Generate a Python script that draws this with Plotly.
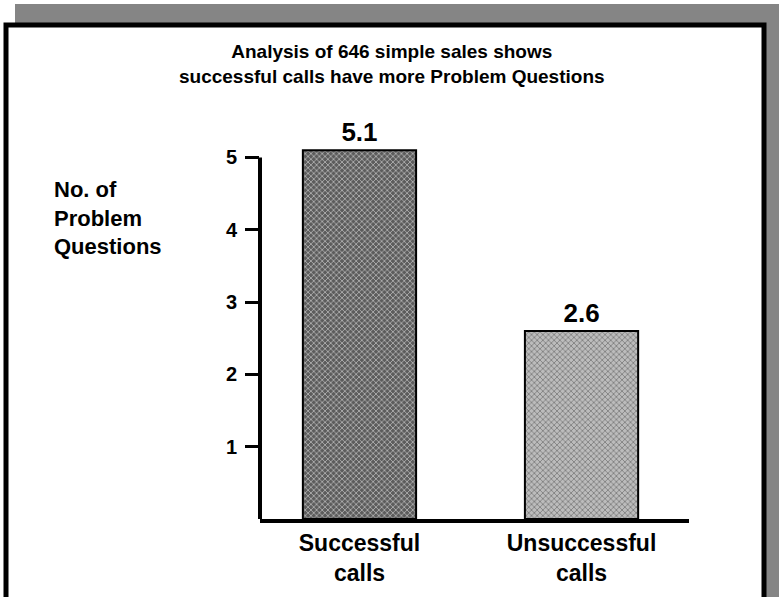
"""Problem Questions per call: successful vs unsuccessful (simple sales)."""
import plotly.graph_objects as go

W, H = 779, 597
# plot area in pixels
L, R, T, B = 260, 90, 114, 78

categories = ["Successful<br>calls", "Unsuccessful<br>calls"]
values = [5.1, 2.6]
value_labels = ["5.1", "2.6"]
tick_vals = [1, 2, 3, 4, 5]

FONT = "Liberation Sans, Arial, sans-serif"


def px(x, y):
    """Convert pixel coordinates to paper coordinates."""
    return (x - L) / (W - L - R), (H - B - y) / (H - T - B)


fig = go.Figure()
fig.add_trace(go.Bar(
    x=[0, 1],
    y=values,
    width=0.51,
    text=value_labels,
    textposition="outside",
    cliponaxis=False,
    textfont=dict(family=FONT, size=26, color="black", weight="bold"),
    marker=dict(
        color=["#5c5c5c", "#bcbcbc"],
        line=dict(color="black", width=2),
        pattern=dict(
            shape="x",
            fgcolor=["#000000", "#707070"],
            bgcolor=["#6a6a6a", "#cccccc"],
            size=4,
            solidity=0.4,
        ),
    ),
    hoverinfo="skip",
))

shapes = []
# hatched drop shadow (top and right)
x0, y0 = px(15, 4)
x1, y1 = px(779, 40)
shapes.append(dict(type="rect", xref="paper", yref="paper", x0=x0, y0=y0, x1=x1, y1=y1,
                   fillcolor="#858585", line=dict(width=0), layer="below"))
x0, y0 = px(750, 4)
x1, y1 = px(779, 600)
shapes.append(dict(type="rect", xref="paper", yref="paper", x0=x0, y0=y0, x1=x1, y1=y1,
                   fillcolor="#858585", line=dict(width=0), layer="below"))
# white frame with black border
x0, y0 = px(6, 25)
x1, y1 = px(764, 640)
shapes.append(dict(type="rect", xref="paper", yref="paper", x0=x0, y0=y0, x1=x1, y1=y1,
                   fillcolor="white", line=dict(color="black", width=5), layer="below"))
# y axis line only up to 5
shapes.append(dict(type="line", xref="paper", yref="y", x0=0, x1=0, y0=0, y1=5,
                   line=dict(color="black", width=4), layer="above"))

annotations = []
tx, ty = px(392, 64)
annotations.append(dict(
    text="Analysis of 646 simple sales shows<br>successful calls have more Problem Questions",
    xref="paper", yref="paper", x=tx, y=ty, xanchor="center", yanchor="middle",
    showarrow=False, align="center",
    font=dict(family=FONT, size=19, color="black", weight="bold"),
))
lx, ly = px(52, 218)
annotations.append(dict(
    text="No. of<br>Problem<br>Questions",
    xref="paper", yref="paper", x=lx, y=ly, xanchor="left", yanchor="middle",
    showarrow=False, align="left",
    font=dict(family=FONT, size=22, color="black", weight="bold"),
))

fig.update_layout(
    width=W, height=H,
    margin=dict(l=L, r=R, t=T, b=B),
    paper_bgcolor="white",
    plot_bgcolor="rgba(0,0,0,0)",
    showlegend=False,
    shapes=shapes,
    annotations=annotations,
    xaxis=dict(
        range=[-0.448, 1.484],
        tickvals=[0, 1],
        ticktext=categories,
        showline=True, linecolor="black", linewidth=4,
        ticks="", showgrid=False, zeroline=False,
        tickfont=dict(family=FONT, size=23, color="black", weight="bold"),
    ),
    yaxis=dict(
        range=[0, 5.6],
        tickvals=tick_vals,
        ticks="outside", ticklen=14, tickwidth=3, tickcolor="black",
        showline=False, showgrid=False, zeroline=False,
        tickfont=dict(family=FONT, size=20, color="black", weight="bold"),
        ticklabelstandoff=4,
    ),
)

# drop the browser's default body margin so the figure sits at the page origin
fig.write_html(
    "out.html",
    config={"displayModeBar": False},
    post_script="document.body.style.margin = '0';",
)
